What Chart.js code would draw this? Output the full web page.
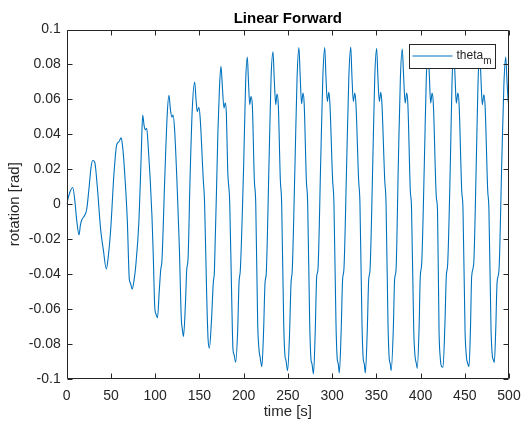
<!DOCTYPE html>
<html>
<head>
<meta charset="utf-8">
<script src="https://cdn.jsdelivr.net/npm/chart.js@4.4.1/dist/chart.umd.min.js"></script>
<style>
  html, body { margin: 0; padding: 0; background: #fff; }
  #wrap { width: 523px; height: 427px; }
</style>
</head>
<body>
<div id="wrap"><canvas id="grafico" width="523" height="427"></canvas></div>
<script>
var tempo = [
  0, 3, 6.8, 9, 11.5, 13.9,
  15.5, 17, 20, 22.6, 25, 27.5, 29.4,
  31.7, 34.6, 38.4, 41.4, 44.8,
  47, 49.7, 53.5, 56.5, 59.1, 61.5,
  63, 64.8, 68.5, 70.8, 72, 74,
  76, 78, 81.7, 84.3, 85.9,
  87.5, 88.9, 90.4, 91.9, 96.4, 97.9, 99.5, 101, 102.6,
  104.7, 106.3, 107.7, 110.8, 113.7, 115.6,
  117.3, 119, 120.2, 122, 125, 127.3, 129.6, 130.6, 132,
  134.1, 135.7, 137.2, 139.4, 142, 144.7,
  146.2, 147.6, 149.4, 150.8, 154.4, 155.8, 158.3, 159.8, 161.3,
  163.5, 165.7, 167, 171, 172.8, 174.4,
  176, 177.8, 179.2, 180.5, 182, 184.3, 186.5, 188, 189.2, 191,
  193.3, 194.8, 196.3, 200.1, 202.3, 204.2,
  205.5, 206.9, 208.3, 209.8, 212.1, 213.7, 215.9, 217.4, 218.5, 220.6,
  222.6, 224.2, 225.6, 228.7, 231, 233.2,
  234.6, 236.3, 237.7, 239.2, 241.5, 243, 245.3, 246.8, 247.8, 249.7,
  251.8, 253.6, 255, 258.1, 260.4, 262.5,
  263.9, 265.5, 267.1, 268.5, 270.9, 272.4, 274.7, 276.2, 277.2, 279,
  281, 282.6, 284, 287.1, 289.5, 291.7,
  293, 294.6, 296.3, 297.6, 300.6, 302.1, 304.4, 305.9, 306.9, 308.2,
  310.3, 311.9, 313.4, 316.5, 318.9, 321.1,
  322.4, 324, 325.7, 327, 330, 331.5, 333.8, 335.3, 336.3, 337.6,
  339.8, 341.4, 342.9, 346, 348.2, 350.4,
  351.7, 353.4, 355.1, 356.4, 359.5, 361, 363.2, 364.7, 365.7, 366.8,
  369.2, 370.7, 372.3, 374.9, 377.2, 379.4,
  380.8, 382.6, 384.4, 385.7, 388.4, 389.8, 392.3, 393.8, 395.2, 396.3,
  398.3, 399.7, 401.3, 404.3, 406.5, 408.7,
  410, 411.4, 413.1, 414.5, 417.8, 419.2, 420.9, 422.3, 423.9, 425.4,
  427.6, 429.1, 430.7, 433.7, 435.6, 437.6,
  439, 440.4, 442.2, 443.6, 446.5, 448, 450.3, 451.8, 453.3, 454.8,
  456.4, 457.8, 460.1, 463, 465, 466.9,
  468.3, 469.8, 471.6, 473, 475.9, 477.3, 479.7, 481.2, 482.3, 483.4,
  485, 486.5, 488.7, 491.8, 494.2, 496.3, 497.6, 499, 500
];
var thetaM = [
  0, 0.006, 0.0096, 0.003, -0.010, -0.0175,
  -0.012, -0.009, -0.0066, -0.003, 0.008, 0.021, 0.025,
  0.024, 0.010, -0.0146, -0.026, -0.037,
  -0.030, -0.0146, 0.018, 0.034, 0.0358, 0.038,
  0.034, 0.0235, -0.009, -0.043, -0.045, -0.0486,
  -0.044, -0.0356, -0.009, 0.029, 0.051,
  0.045, 0.0426, 0.0435, 0.035, -0.007, -0.030, -0.0585, -0.063, -0.065,
  -0.049, -0.0375, -0.032, 0.014, 0.052, 0.0624,
  0.054, 0.0498, 0.051, 0.0426, 0.0083, -0.024, -0.066, -0.071, -0.0757,
  -0.0585, -0.0375, -0.031, 0.014, 0.055, 0.070,
  0.060, 0.053, 0.0555, 0.050, 0.014, 0.002, -0.053, -0.077, -0.0824,
  -0.068, -0.045, -0.038, 0.0426, 0.068, 0.079,
  0.067, 0.055, 0.058, 0.052, 0.0197, 0.0006, -0.053, -0.0833, -0.086, -0.0904,
  -0.072, -0.045, -0.0375, 0.0235, 0.070, 0.0842,
  0.070, 0.057, 0.0617, 0.057, 0.014, 0.0006, -0.068, -0.0833, -0.087, -0.093,
  -0.072, -0.045, -0.0394, 0.0235, 0.072, 0.0872,
  0.072, 0.057, 0.063, 0.057, 0.014, 0.0006, -0.068, -0.087, -0.089, -0.0952,
  -0.076, -0.045, -0.0375, 0.0235, 0.072, 0.0897,
  0.074, 0.0575, 0.0636, 0.057, 0.014, 0.0006, -0.068, -0.089, -0.091, -0.0971,
  -0.072, -0.0413, -0.0375, 0.0235, 0.072, 0.0897,
  0.074, 0.0588, 0.064, 0.057, 0.014, 0.0006, -0.068, -0.089, -0.091, -0.0966,
  -0.072, -0.043, -0.037, 0.0235, 0.072, 0.0899,
  0.074, 0.0588, 0.0636, 0.057, 0.014, 0.0006, -0.068, -0.089, -0.091, -0.0966,
  -0.072, -0.043, -0.0375, 0.0235, 0.072, 0.0893,
  0.074, 0.0588, 0.064, 0.057, 0.014, 0.0006, -0.068, -0.089, -0.091, -0.0952,
  -0.072, -0.043, -0.0375, 0.0235, 0.072, 0.0888,
  0.074, 0.0579, 0.0636, 0.057, 0.0083, -0.002, -0.072, -0.087, -0.091, -0.0939,
  -0.072, -0.0413, -0.034, 0.0235, 0.072, 0.0875,
  0.073, 0.0579, 0.0636, 0.057, 0.0044, -0.004, -0.072, -0.088, -0.093, -0.0933,
  -0.068, -0.0413, -0.034, 0.0235, 0.070, 0.087,
  0.073, 0.0579, 0.0636, 0.057, 0.0083, -0.003, -0.072, -0.087, -0.091, -0.0929,
  -0.072, -0.0413, -0.034, 0.0235, 0.070, 0.0865,
  0.072, 0.057, 0.0627, 0.056, 0.0083, -0.003, -0.072, -0.087, -0.089, -0.0906,
  -0.072, -0.045, -0.0375, 0.0235, 0.068, 0.0842, 0.072, 0.0597, 0.057
];

var xTicks = [0, 50, 100, 150, 200, 250, 300, 350, 400, 450, 500];
var xTickLabels = ['0', '50', '100', '150', '200', '250', '300', '350', '400', '450', '500'];
var yTicks = [-0.1, -0.08, -0.06, -0.04, -0.02, 0, 0.02, 0.04, 0.06, 0.08, 0.1];
var yTickLabels = ['-0.1', '-0.08', '-0.06', '-0.04', '-0.02', '0', '0.02', '0.04', '0.06', '0.08', '0.1'];

var FONTE = "'Liberation Sans', Arial, Helvetica, sans-serif";
var COR_EIXO = '#262626';
var COR_LINHA = '#0072BD';

// moldura com ticks para dentro (estilo MATLAB) e legenda com subscrito
var moldura = {
  id: 'moldura',
  afterDatasetsDraw: function (chart) {
    var ctx = chart.ctx;
    var a = chart.chartArea;
    var sx = chart.scales.x, sy = chart.scales.y;
    var l = Math.round(a.left) + 0.5, r = Math.round(a.right) - 0.5;
    var t = Math.round(a.top) + 0.5, b = Math.round(a.bottom) - 0.5;

    ctx.save();
    ctx.strokeStyle = COR_EIXO;
    ctx.lineWidth = 1;
    ctx.beginPath();
    ctx.rect(l, t, r - l, b - t);
    sx.ticks.forEach(function (tk) {
      var px = Math.round(sx.getPixelForValue(tk.value)) + 0.5;
      ctx.moveTo(px, b); ctx.lineTo(px, b - 5);
      ctx.moveTo(px, t); ctx.lineTo(px, t + 5);
    });
    sy.ticks.forEach(function (tk) {
      var py = Math.round(sy.getPixelForValue(tk.value)) + 0.5;
      ctx.moveTo(l, py); ctx.lineTo(l + 5, py);
      ctx.moveTo(r, py); ctx.lineTo(r - 5, py);
    });
    ctx.stroke();

    // legenda
    var lx = Math.round(a.right) - 100 + 0.5, ly = Math.round(a.top) + 14 + 0.5;
    var lw = 86, lh = 24;
    ctx.fillStyle = '#fff';
    ctx.fillRect(lx, ly, lw, lh);
    ctx.strokeStyle = COR_EIXO;
    ctx.strokeRect(lx, ly, lw, lh);
    ctx.strokeStyle = COR_LINHA;
    ctx.beginPath();
    ctx.moveTo(lx + 3, ly + 11.5);
    ctx.lineTo(lx + 43, ly + 11.5);
    ctx.stroke();
    ctx.fillStyle = COR_EIXO;
    ctx.textBaseline = 'middle';
    ctx.textAlign = 'left';
    ctx.font = '12px ' + FONTE;
    ctx.fillText('theta', lx + 47, ly + 11);
    var w = ctx.measureText('theta').width;
    ctx.font = '10px ' + FONTE;
    ctx.fillText('m', lx + 47 + w, ly + 17);
    ctx.restore();
  }
};

function inicializarGrafico() {
  var pontos = tempo.map(function (t, i) { return { x: t, y: thetaM[i] }; });

  new Chart(document.getElementById('grafico').getContext('2d'), {
    type: 'line',
    data: {
      datasets: [{
        label: 'theta_m',
        data: pontos,
        borderColor: COR_LINHA,
        borderWidth: 1.1,
        pointRadius: 0,
        fill: false,
        cubicInterpolationMode: 'monotone'
      }]
    },
    options: {
      responsive: false,
      animation: false,
      devicePixelRatio: 1,
      layout: { padding: { left: 0, right: 14, top: 0, bottom: 0 } },
      plugins: {
        legend: { display: false },
        tooltip: { enabled: false },
        title: {
          display: true,
          fullSize: false,
          text: 'Linear Forward',
          color: '#000',
          font: { family: FONTE, size: 15, weight: 'bold' },
          padding: { top: 10, bottom: 1.5 }
        }
      },
      scales: {
        x: {
          type: 'linear',
          min: 0,
          max: 500,
          grid: { display: false, drawTicks: false },
          border: { display: false },
          afterBuildTicks: function (s) { s.ticks = xTicks.map(function (v) { return { value: v }; }); },
          afterFit: function (s) { s.height = 48; s.paddingLeft = 0; s.paddingRight = 0; },
          ticks: {
            color: COR_EIXO,
            padding: 9,
            maxRotation: 0,
            font: { family: FONTE, size: 14 },
            callback: function (v) { return xTickLabels[xTicks.indexOf(v)]; }
          },
          title: {
            display: true,
            text: 'time [s]',
            color: COR_EIXO,
            font: { family: FONTE, size: 15 },
            padding: { top: 0, bottom: 6 }
          }
        },
        y: {
          type: 'linear',
          min: -0.1,
          max: 0.1,
          grid: { display: false, drawTicks: false },
          border: { display: false },
          afterBuildTicks: function (s) { s.ticks = yTicks.map(function (v) { return { value: v }; }); },
          afterFit: function (s) { s.width = 66.7; s.paddingTop = 0; s.paddingBottom = 0; },
          ticks: {
            color: COR_EIXO,
            padding: 6,
            font: { family: FONTE, size: 14 },
            callback: function (v) { return yTickLabels[yTicks.indexOf(v)]; }
          },
          title: {
            display: true,
            text: 'rotation [rad]',
            color: COR_EIXO,
            font: { family: FONTE, size: 15 },
            padding: { top: 6, bottom: 0 }
          }
        }
      }
    },
    plugins: [moldura]
  });
}

window.onload = inicializarGrafico;
</script>
</body>
</html>
